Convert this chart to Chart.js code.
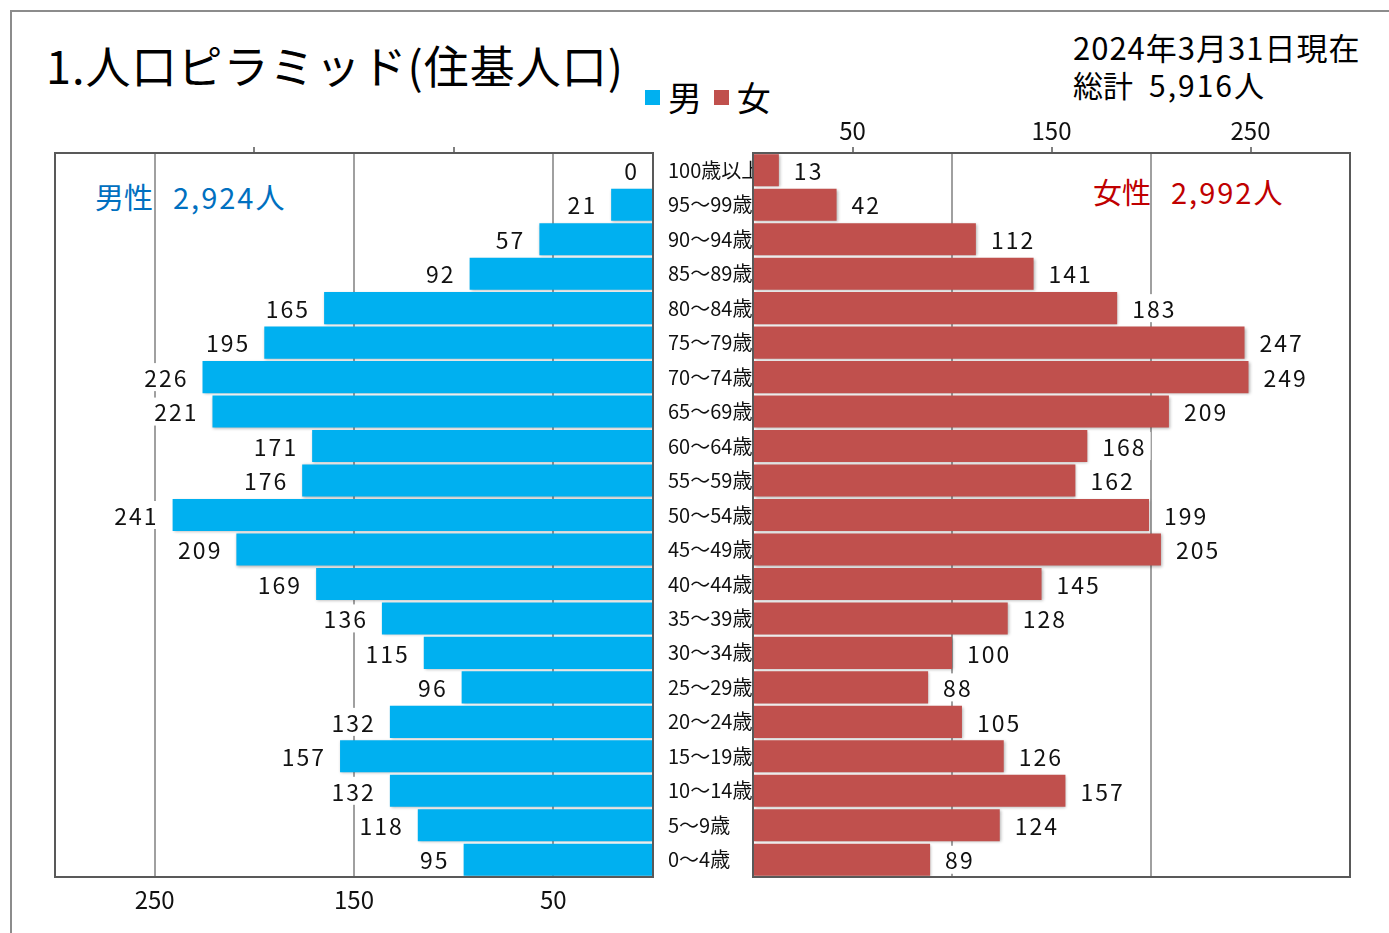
<!DOCTYPE html>
<html lang="ja">
<head>
<meta charset="utf-8">
<script src="https://cdn.jsdelivr.net/npm/chart.js@4.4.1/dist/chart.umd.min.js"></script>
<style>
  body { margin: 0; background: #fff; font-family: "Noto Sans CJK JP", sans-serif; }
  #page { position: relative; width: 1389px; height: 933px; overflow: hidden; }
  #frame { position: absolute; left: 10px; top: 10px; width: 1400px; height: 940px; border: 2px solid #8c8c8c; }
  .txt { position: absolute; white-space: nowrap; color: #000; line-height: 1; }
  .sq { display: inline-block; width: 15px; height: 15px; margin-right: 8px; vertical-align: 6px; }
  .num { letter-spacing: 2px; margin-left: 20px; }
  .box { position: absolute; }
</style>
</head>
<body>
<div id="page">
  <div id="frame"></div>
  <div class="txt" style="left:46px; top:42px; font-size:45px; letter-spacing:1px;">1.人口ピラミッド(住基人口)</div>
  <div class="txt" style="left:645px; top:80px; font-size:34px;"><span class="sq" style="background:#00B0F0"></span>男 <span class="sq" style="background:#C0504D; margin-left:4px"></span>女</div>
  <div class="txt" style="left:1073px; top:31px; font-size:31px; letter-spacing:1px;">2024年3月31日現在</div>
  <div class="txt" style="left:1073px; top:69px; font-size:30px;">総計<span class="num" style="margin-left:16px">5,916人</span></div>
  <div class="txt" style="left:95px; top:182px; font-size:29px; color:#0070C0;">男性<span class="num">2,924人</span></div>
  <div class="txt" style="left:1093px; top:177px; font-size:29px; color:#C00000;">女性<span class="num">2,992人</span></div>
  <div class="box" style="left:50px; top:100px; width:608px; height:830px;"><canvas id="maleChart"></canvas></div>
  <div class="box" style="left:663px; top:100px; width:692px; height:830px;"><canvas id="femaleChart"></canvas></div>
</div>
<script>
const ageGroups = ['100歳以上', '95～99歳', '90～94歳', '85～89歳', '80～84歳', '75～79歳', '70～74歳',
  '65～69歳', '60～64歳', '55～59歳', '50～54歳', '45～49歳', '40～44歳', '35～39歳', '30～34歳',
  '25～29歳', '20～24歳', '15～19歳', '10～14歳', '5～9歳', '0～4歳'];
const maleValues = [0, 21, 57, 92, 165, 195, 226, 221, 171, 176, 241, 209, 169, 136, 115, 96, 132, 157, 132, 118, 95];
const femaleValues = [13, 42, 112, 141, 183, 247, 249, 209, 168, 162, 199, 205, 145, 128, 100, 88, 105, 126, 157, 124, 89];
const labelTicks = [50, 150, 250];
const gridTicks = [100, 200];

const FONT = '"Noto Sans CJK JP", sans-serif';
const GRID = '#a0a0a0';

// fixed axis height, no automatic side padding
const fixHeight = h => scale => {
  scale.height = h;
  scale.paddingLeft = 0;
  scale.paddingRight = 0;
};

const barShadow = {
  id: 'barShadow',
  beforeDatasetsDraw(chart) {
    const ctx = chart.ctx;
    ctx.save();
    ctx.shadowColor = 'rgba(0,0,0,0.3)';
    ctx.shadowBlur = 3;
    ctx.shadowOffsetX = 1;
    ctx.shadowOffsetY = 1;
  },
  afterDatasetsDraw(chart) { chart.ctx.restore(); },
};

const frame = {
  id: 'frame',
  afterDraw(chart) {
    const { ctx, chartArea: a } = chart;
    ctx.save();
    ctx.strokeStyle = '#595959';
    ctx.lineWidth = 2;
    ctx.strokeRect(a.left, a.top, a.right - a.left, a.bottom - a.top);
    ctx.restore();
  },
};

function valueLabels(side) {
  return {
    id: 'valueLabels',
    afterDatasetsDraw(chart) {
      const ctx = chart.ctx;
      const data = chart.data.datasets[0].data;
      ctx.save();
      ctx.font = '23px ' + FONT;
      ctx.letterSpacing = '2px';
      ctx.textBaseline = 'middle';
      chart.getDatasetMeta(0).data.forEach((bar, i) => {
        const txt = String(data[i]);
        const w = ctx.measureText(txt).width;
        const x0 = side === 'left' ? bar.x - 14 - w : bar.x + 15;
        ctx.fillStyle = '#fff';
        ctx.fillRect(x0 - 4, bar.y - 14, w + 8, 28);
        ctx.fillStyle = '#111';
        ctx.textAlign = 'left';
        ctx.fillText(txt, x0, bar.y + 1);
      });
      ctx.restore();
    },
  };
}

new Chart(document.getElementById('maleChart'), {
  type: 'bar',
  data: {
    labels: ageGroups,
    datasets: [{ label: '男', data: maleValues, backgroundColor: '#00B0F0',
      barPercentage: 1, categoryPercentage: 0.93 }],
  },
  options: {
    indexAxis: 'y', responsive: true, maintainAspectRatio: false, animation: false,
    layout: { padding: { left: 5, right: 5, top: 0, bottom: 0 } },
    plugins: { legend: { display: false }, tooltip: { enabled: false } },
    scales: {
      y: { display: false },
      x: {
        position: 'bottom', reverse: true, min: 0, max: 300,
        afterFit: fixHeight(53),
        border: { display: false },
        grid: {
          color: c => labelTicks.includes(c.tick.value) ? GRID : 'transparent',
          lineWidth: 2, drawTicks: false,
        },
        ticks: {
          stepSize: 50, autoSkip: false, maxRotation: 0, padding: 8, color: '#111',
          font: { family: FONT, size: 24 },
          callback: v => labelTicks.includes(v) ? v : '',
        },
      },
      x2: {
        position: 'top', reverse: true, min: 0, max: 300,
        afterFit: fixHeight(53),
        border: { display: false },
        grid: {
          drawOnChartArea: false, tickLength: 6, lineWidth: 2,
          tickColor: c => gridTicks.includes(c.tick.value) ? '#808080' : 'transparent',
        },
        ticks: { stepSize: 50, autoSkip: false, maxRotation: 0, callback: () => '' },
      },
    },
  },
  plugins: [barShadow, valueLabels('left'), frame],
});

new Chart(document.getElementById('femaleChart'), {
  type: 'bar',
  data: {
    labels: ageGroups,
    datasets: [{ label: '女', data: femaleValues, backgroundColor: '#C0504D',
      barPercentage: 1, categoryPercentage: 0.93 }],
  },
  options: {
    indexAxis: 'y', responsive: true, maintainAspectRatio: false, animation: false,
    layout: { padding: { left: 5, right: 5, top: 0, bottom: 53 } },
    plugins: { legend: { display: false }, tooltip: { enabled: false } },
    scales: {
      y: {
        position: 'left', z: 1,
        afterFit: scale => { scale.width = 85; },
        border: { display: false },
        grid: { display: false },
        ticks: { crossAlign: 'far', padding: 0, color: '#111', font: { family: FONT, size: 20 } },
      },
      x: {
        position: 'top', min: 0, max: 300,
        afterFit: fixHeight(53),
        border: { display: false },
        grid: {
          color: c => gridTicks.includes(c.tick.value) ? GRID : 'transparent',
          tickColor: c => labelTicks.includes(c.tick.value) ? '#808080' : 'transparent',
          lineWidth: 2, tickLength: 6,
        },
        ticks: {
          stepSize: 50, autoSkip: false, maxRotation: 0, padding: 2, color: '#111',
          font: { family: FONT, size: 24 },
          callback: v => labelTicks.includes(v) ? v : '',
        },
      },
    },
  },
  plugins: [barShadow, valueLabels('right'), frame],
});
</script>
</body>
</html>
